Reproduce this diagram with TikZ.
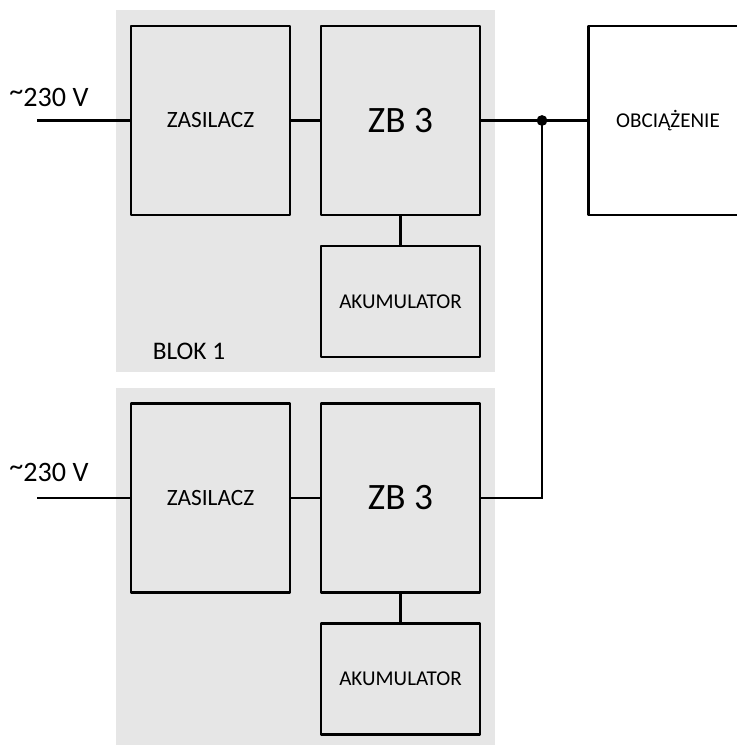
\documentclass[tikz,border=0pt]{standalone}
\usepackage{fontspec}
\setmainfont{Carlito}
\usetikzlibrary{positioning}

\definecolor{blokgray}{HTML}{E6E6E6}

\begin{document}
\begin{tikzpicture}[
    node distance=0.775cm,
    box/.style={rectangle, draw, line width=2.1pt, line join=round, outer sep=0pt, inner sep=0pt, minimum width=3.975cm, text centered, font=\fontsize{15}{18}\selectfont},
    bigbox/.style={box, minimum height=4.725cm},
    akubox/.style={box, minimum height=2.775cm},
    zastext/.style={font=\fontsize{16.6}{20}\selectfont},
    zbtext/.style={font=\fontsize{26.5}{30}\selectfont},
    wire/.style={line width=1.5pt},
    supply/.style={font=\fontsize{20}{24}\selectfont, inner sep=0pt},
    dot/.style={circle, fill, inner sep=0pt, minimum size=0.27cm}
]

% Frame
\clip (0,0) rectangle (18.425,-18.625);

% Gray blocks
\fill[blokgray] (2.9,-0.25) rectangle (12.375,-9.3);
\fill[blokgray] (2.9,-9.7) rectangle (12.375,-18.625);

% Blok 1
\node[bigbox, zastext] (zas1) at (5.2625,-3.0125) {ZASILACZ};
\node[bigbox, zbtext, right=of zas1] (zb1) {ZB 3};
\node[akubox, below=of zb1] (aku1) {AKUMULATOR};
\node[font=\fontsize{18}{22}\selectfont, inner sep=0pt] (blok1) at (4.725,-8.775) {BLOK 1};
\node[supply] (supply1) at (1.225,-2.425) {\raisebox{0.2em}{\char`\~}230 V};
\coordinate (in1) at (0.925,-3.0125);

% Blok 2
\node[bigbox, zastext] (zas2) at (5.2625,-12.45) {ZASILACZ};
\node[bigbox, zbtext, right=of zas2] (zb2) {ZB 3};
\node[akubox, below=of zb2] (aku2) {AKUMULATOR};
\node[supply] (supply2) at (1.225,-11.8) {\raisebox{0.2em}{\char`\~}230 V};
\coordinate (in2) at (0.925,-12.45);

% Load
\node[bigbox, fill=white] (obc) at (16.7,-3.0125) {OBCIĄŻENIE};
\node[dot] (junction) at (13.55,-3.0125) {};

% Wires
\draw[wire] (in1) -- (zas1.west);
\draw[wire] (zas1.east) -- (zb1.west);
\draw[wire] (zb1.south) -- (aku1.north);
\draw[wire] (zb1.east) -- (obc.west);
\draw[wire] (in2) -- (zas2.west);
\draw[wire] (zas2.east) -- (zb2.west);
\draw[wire] (zb2.south) -- (aku2.north);
\draw[wire] (junction.center) |- (zb2.east);

\end{tikzpicture}
\end{document}
